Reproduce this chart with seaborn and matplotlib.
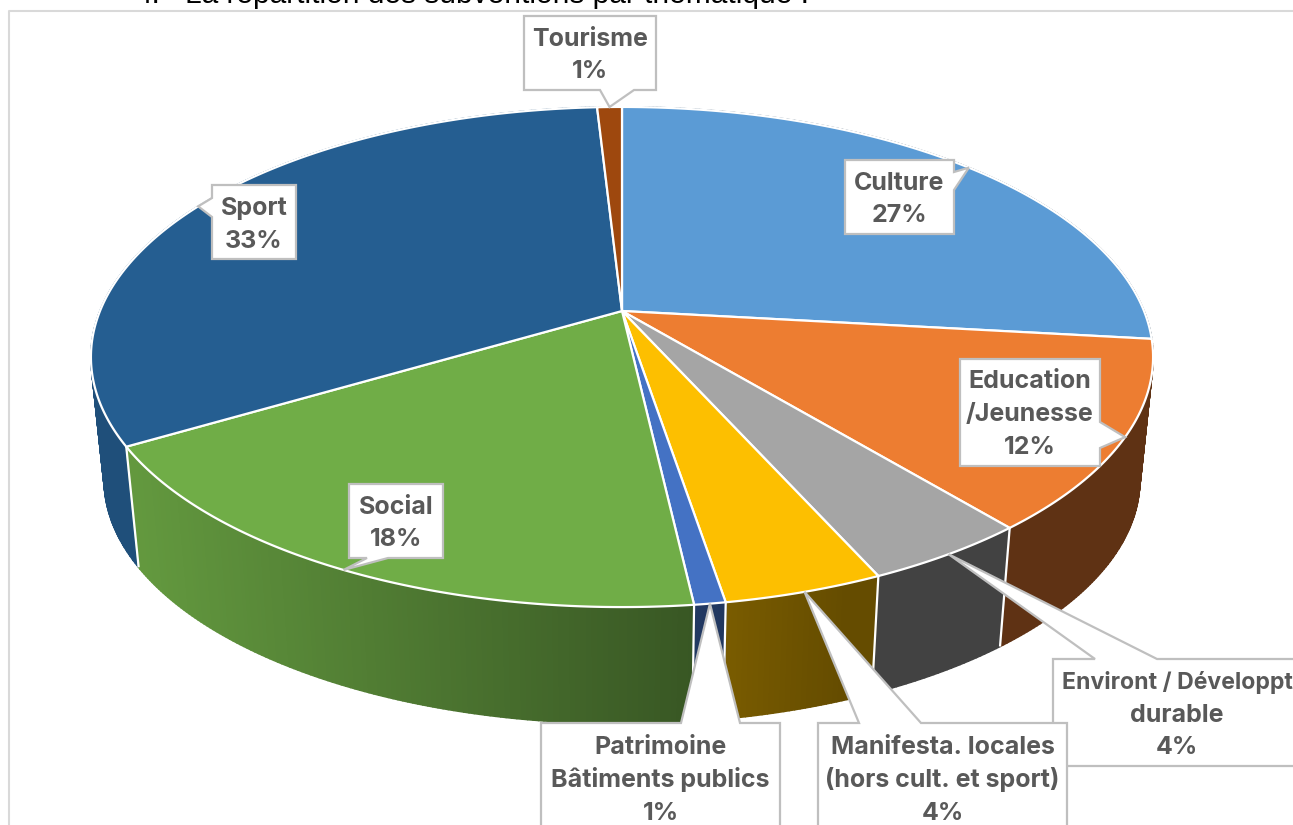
import numpy as np
import matplotlib
matplotlib.use("Agg")
import matplotlib.pyplot as plt
from matplotlib.collections import PolyCollection
from matplotlib.patches import Polygon
import seaborn as sns

# Shares (the wedges are a little more precise than the labels)
categories = ["Culture", "Education\n/Jeunesse", "Environt / Développt\ndurable",
              "Manifesta. locales\n(hors cult. et sport)", "Patrimoine\nBâtiments publics",
              "Social", "Sport", "Tourisme"]
shares = [26.8, 12.2, 4.3, 4.1, 0.8, 18.3, 32.6, 0.9]
top_colors = ["#5B9BD5", "#ED7D31", "#A5A5A5", "#FDBF00", "#4472C4", "#70AD47", "#255E91", "#9E480E"]

# label boxes: left, right, top, bottom, side of the pointer, pointer base start/end
boxes = {
    "Culture": (845, 954, 160, 234, "right", 172, 190),
    "Education\n/Jeunesse": (960, 1100, 359, 466, "right", 422, 448),
    "Environt / Développt\ndurable": (1053, 1301, 659, 766, "top", 1095, 1157),
    "Manifesta. locales\n(hors cult. et sport)": (818, 1067, 723, 833, "top", 859, 921),
    "Patrimoine\nBâtiments publics": (541, 780, 723, 833, "top", 681, 740),
    "Social": (349, 443, 484, 558, "bottom", 367, 388),
    "Sport": (212, 296, 185, 259, "left", 198, 217),
    "Tourisme": (524, 656, 16, 90, "bottom", 600, 634),
}
draw_order = ["Tourisme", "Culture", "Education\n/Jeunesse", "Sport", "Social",
              "Environt / Développt\ndurable", "Patrimoine\nBâtiments publics",
              "Manifesta. locales\n(hors cult. et sport)"]
# this line is set narrower than the others so it ends at the picture edge
line_sizes = {"Environt / Développt": 16.6}

# perspective of the disc, in pixels
CX, CY = 622, 311
A, B, K = 522, 241.6, 0.184
BOTTOM_CY, BOTTOM_S = 435, 0.975
LINE_STEP = 33

sns.set_theme(style="white")
palette = sns.color_palette(top_colors)
plt.rcParams["font.family"] = ["Inter", "Open Sans", "DejaVu Sans"]


def rim(angle):
    # angle in degrees, clockwise from the top of the disc
    t = np.radians(angle)
    X, Y = np.sin(t), -np.cos(t)
    d = 1 - K * Y
    return CX + A * X / d, CY + B * Y / d


def lower(x, y):
    return CX + BOTTOM_S * (x - CX), BOTTOM_CY + BOTTOM_S * (y - CY)


def shade(x):
    s = 0.88 - (x - 137) / (696 - 137) * 0.38
    return np.clip(s, 0.40, 0.88)


fig = plt.figure(figsize=(12.93, 8.25), dpi=100)
ax = fig.add_axes([0, 0, 1, 1])
ax.set_xlim(0, 1293)
ax.set_ylim(825, 0)
ax.axis("off")

ends = np.cumsum(shares) / np.sum(shares) * 360
starts = np.concatenate([[0], ends[:-1]])

# sides as thin quads, back to front, darker towards the right
quads, quad_colors, quad_depth = [], [], []
for i in range(len(shares)):
    ang = np.linspace(starts[i], ends[i], max(3, int((ends[i] - starts[i]) * 2)))
    x, y = rim(ang)
    xb, yb = lower(x, y)
    for j in range(len(ang) - 1):
        quads.append([(x[j], y[j]), (x[j + 1], y[j + 1]), (xb[j + 1], yb[j + 1]), (xb[j], yb[j])])
        f = 0.84 if categories[i] == "Sport" else shade((x[j] + x[j + 1]) / 2)
        quad_colors.append(tuple(f * c for c in palette[i]))
        quad_depth.append(y[j] + y[j + 1])
back_to_front = np.argsort(quad_depth)
ax.add_collection(PolyCollection([quads[k] for k in back_to_front],
                                 facecolors=[quad_colors[k] for k in back_to_front],
                                 edgecolors=[quad_colors[k] for k in back_to_front],
                                 linewidths=1.2, zorder=1))

# white seams between the sides, only on the front of the disc
for a in ends:
    x, y = rim(a)
    if y > 420:
        xb, yb = lower(x, y)
        ax.plot([x, xb], [y, yb], color="white", lw=1.6, zorder=2, solid_capstyle="butt")

# top faces
for i in range(len(shares)):
    ang = np.linspace(starts[i], ends[i], 200)
    x, y = rim(ang)
    pts = np.column_stack([np.r_[CX, x], np.r_[CY, y]])
    ax.add_patch(Polygon(pts, closed=True, fc=palette[i], ec="white", lw=1.6,
                         joinstyle="round", zorder=3))

# label boxes with a pointer to the middle of the wedge
mids = dict(zip(categories, (starts + ends) / 2))
values = dict(zip(categories, shares))
for z, name in enumerate(draw_order):
    l, r, t, b, side, p0, p1 = boxes[name]
    tip = rim(mids[name])
    if side == "top":
        pts = [(l, t), (p0, t), tip, (p1, t), (r, t), (r, b), (l, b)]
    elif side == "bottom":
        pts = [(l, t), (r, t), (r, b), (p1, b), tip, (p0, b), (l, b)]
    elif side == "right":
        pts = [(l, t), (r, t), (r, p0), tip, (r, p1), (r, b), (l, b)]
    else:
        pts = [(l, t), (r, t), (r, b), (l, b), (l, p1), tip, (l, p0)]
    ax.add_patch(Polygon(pts, closed=True, fc="white", ec="#BFBFBF", lw=1.6,
                         joinstyle="miter", zorder=5 + z * 0.1))
    lines = f"{name}\n{values[name]:.0f}%".split("\n")
    for k, line in enumerate(lines):
        y_line = (t + b) / 2 + (k - (len(lines) - 1) / 2) * LINE_STEP + 9
        ax.text((l + r) / 2, y_line, line, ha="center", va="baseline",
                fontsize=line_sizes.get(line, 18), fontweight="bold", color="#595959",
                zorder=5.05 + z * 0.1)

# frame of the chart area and the document heading cut by it
ax.plot([9, 9, 1293], [825, 11, 11], color="#D9D9D9", lw=1.5, zorder=6)
ax.text(135, 3, "4.", fontsize=21.5, color="black", family="Liberation Sans", va="baseline", zorder=4)
ax.text(185, 3, "La répartition des subventions par thématique :", fontsize=21.5, color="black",
        family="Liberation Sans", va="baseline", zorder=4)

fig.savefig("out.png", dpi=100)
